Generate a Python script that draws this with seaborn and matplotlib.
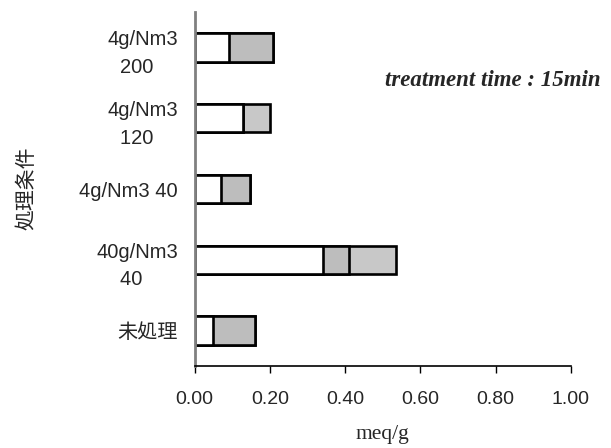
import matplotlib
matplotlib.use("Agg")
import matplotlib.pyplot as plt
import seaborn as sns
import pandas as pd
import numpy as np

categories = ["4g/Nm3\n200  ", "4g/Nm3\n120  ", "4g/Nm3 40", "40g/Nm3\n40  ", "未処理"]
seg_white = [0.092, 0.127, 0.070, 0.341, 0.048]
seg_mid = [0.115, 0.0, 0.078, 0.069, 0.112]
seg_light = [0.0, 0.073, 0.0, 0.124, 0.0]
xticks = [0.0, 0.2, 0.4, 0.6, 0.8, 1.0]
xtick_labels = ["0.00", "0.20", "0.40", "0.60", "0.80", "1.00"]

sns.set_style("white")
plt.rcParams["font.family"] = ["Liberation Sans", "Noto Sans CJK JP", "DejaVu Sans"]

w = np.array(seg_white)
m = np.array(seg_mid)
l = np.array(seg_light)
df = pd.DataFrame({
    "cat": categories,
    "c1": w,
    "c2": w + m,
    "c3": w + m + l,
})

fig = plt.figure(figsize=(6.11, 4.48), dpi=100)
ax = fig.add_axes([0.3187, 0.183, 0.6158, 0.790])

common = dict(y="cat", orient="h", order=categories, width=0.40,
              edgecolor="black", linewidth=1.9, ax=ax)
sns.barplot(data=df, x="c3", color="#c8c8c8", **common)
sns.barplot(data=df, x="c2", color="#bdbdbd", **common)
sns.barplot(data=df, x="c1", color="#ffffff", **common)
for p in ax.patches:
    p.set_facecolor(p.get_facecolor()[:3] + (1.0,))

ax.set_xlim(0, 1.0)
ax.set_ylim(4.5, -0.5)
ax.set_xticks(xticks)
ax.set_xticklabels(xtick_labels, fontsize=14, family=["Liberation Sans"])
ax.set_yticks(range(len(categories)))
ax.set_yticklabels(categories, fontsize=14.5,
                   family=["Liberation Sans", "Noto Sans CJK JP"],
                   multialignment="center", linespacing=1.55)
ax.tick_params(axis="y", length=0, pad=12)
ax.tick_params(axis="x", direction="out", length=5, width=1, color="black",
               pad=13, bottom=True)
ax.set_ylabel("")
ax.set_xlabel("meq/g", fontsize=15.5, family=["Liberation Serif"], labelpad=12)

for s in ["top", "right"]:
    ax.spines[s].set_visible(False)
ax.spines["left"].set_color("#808080")
ax.spines["left"].set_linewidth(2)
ax.spines["bottom"].set_color("black")
ax.spines["bottom"].set_linewidth(1.2)

ax.text(0.506, 0.808, "treatment time : 15min", transform=ax.transAxes,
        ha="left", va="center", fontsize=16.5, family=["Liberation Serif"],
        fontweight="bold", fontstyle="italic")

fig.text(0.044, 0.580, "処理条件", rotation=90, ha="center", va="center",
         fontsize=15, family=["Noto Sans CJK JP"])

fig.savefig("out.png", dpi=100)
